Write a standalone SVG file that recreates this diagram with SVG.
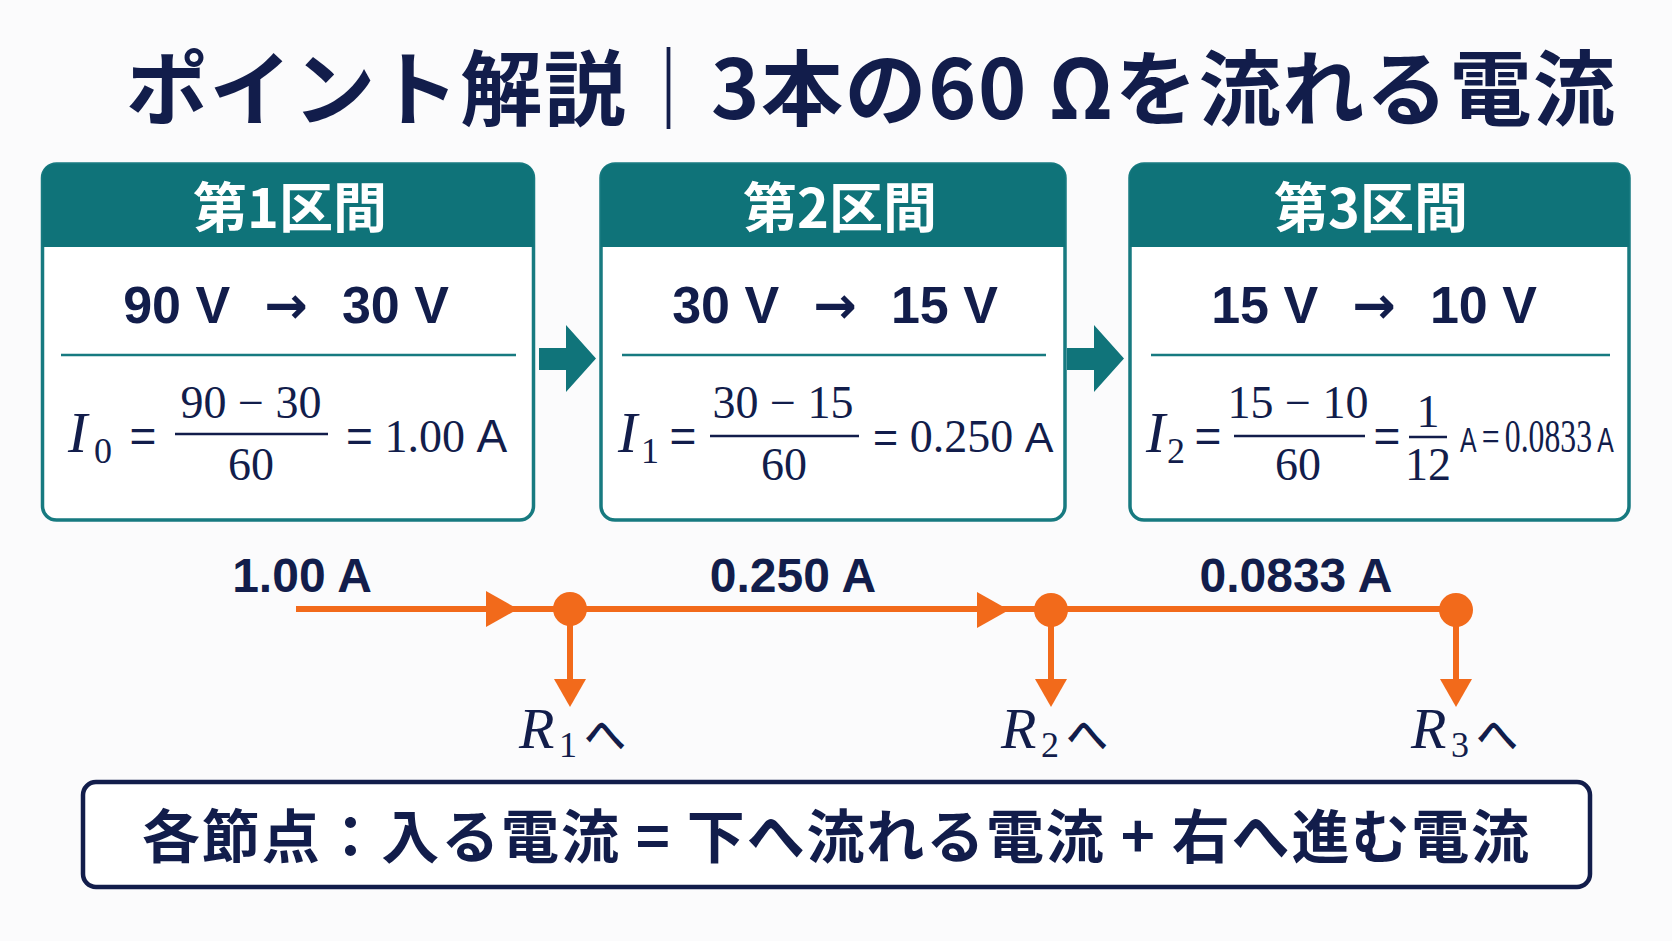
<svg xmlns="http://www.w3.org/2000/svg" width="1672" height="941" viewBox="0 0 1672 941">
<style>
.title{font-family:"Noto Sans CJK JP","Noto Sans",sans-serif;font-weight:700;font-size:82px;fill:#121d4b}
.hdr{font-family:"Noto Sans CJK JP","Noto Sans",sans-serif;font-weight:700;font-size:54px;fill:#ffffff}
.volt{font-family:"Liberation Sans","DejaVu Sans",sans-serif;font-weight:700;font-size:52px;fill:#121d4b}
.arw{font-family:"DejaVu Sans",sans-serif;font-weight:700}
.ser{font-family:"Liberation Serif","DejaVu Serif",serif;font-size:46px;fill:#121d4b}
.ital{font-family:"Liberation Serif","DejaVu Serif",serif;font-style:italic;font-size:58px;fill:#121d4b}
.sub{font-family:"Liberation Serif","DejaVu Serif",serif;font-size:36px;fill:#121d4b}
.sans{font-family:"Liberation Sans","DejaVu Sans",sans-serif;fill:#121d4b}
.lbl{font-family:"Liberation Sans","DejaVu Sans",sans-serif;font-weight:700;font-size:48px;fill:#121d4b}
.he{font-family:"Noto Sans CJK JP",sans-serif;font-weight:500;font-size:42px;fill:#121d4b}
.sum{font-family:"Noto Sans CJK JP","Noto Sans",sans-serif;font-weight:700;font-size:58px;fill:#121d4b}
.box{fill:#ffffff;stroke:#177a80;stroke-width:3.5}
.head{fill:#0f7379}
.div{stroke:#177a80;stroke-width:2.5}
.bar{stroke:#121d4b;stroke-width:2.5}
.or{stroke:#f26a1b;stroke-width:6;fill:none}
.orf{fill:#f26a1b}
.teal{fill:#10747a}
</style>
<rect x="0" y="0" width="1672" height="941" fill="#fbfbfc"/>

<g id="title">
<text class="title" x="126" y="119" textLength="1489" lengthAdjust="spacing">ポイント解説｜3本の60 Ωを流れる電流</text>
</g>

<g id="box1">
<rect class="box" x="42.5" y="164" width="491" height="356" rx="14"/>
<path class="head" d="M42.5,247 V178 Q42.5,164 56.5,164 H519.5 Q533.5,164 533.5,178 V247 Z"/>
<text class="hdr" x="290" y="228" text-anchor="middle">第1区間</text>
<text class="volt" x="286" y="323" text-anchor="middle">90 V<tspan class="arw" dx="16"> → </tspan><tspan dx="16">30 V</tspan></text>
<line class="div" x1="61" y1="355" x2="516" y2="355"/>
<text class="ital" x="68" y="452">I</text>
<text class="sub" x="94" y="463">0</text>
<text class="sans" x="143" y="452" font-size="46" text-anchor="middle">=</text>
<line class="bar" x1="175" y1="434" x2="328" y2="434"/>
<text class="ser" x="251" y="418" text-anchor="middle">90 − 30</text>
<text class="ser" x="251" y="480" text-anchor="middle">60</text>
<text class="ser" x="346" y="452"><tspan class="sans" font-size="46">=</tspan> 1.00 <tspan class="sans" font-size="46">A</tspan></text>
</g>

<g id="box2">
<rect class="box" x="601" y="164" width="464" height="356" rx="14"/>
<path class="head" d="M601,247 V178 Q601,164 615,164 H1051 Q1065,164 1065,178 V247 Z"/>
<text class="hdr" x="840" y="228" text-anchor="middle">第2区間</text>
<text class="volt" x="835" y="323" text-anchor="middle">30 V<tspan class="arw" dx="16"> → </tspan><tspan dx="16">15 V</tspan></text>
<line class="div" x1="622" y1="355" x2="1046" y2="355"/>
<text class="ital" x="618" y="452">I</text>
<text class="sub" x="641" y="463">1</text>
<text class="sans" x="683" y="452" font-size="46" text-anchor="middle">=</text>
<line class="bar" x1="710" y1="436" x2="859" y2="436"/>
<text class="ser" x="783" y="418" text-anchor="middle">30 − 15</text>
<text class="ser" x="784" y="480" text-anchor="middle">60</text>
<text class="ser" x="873" y="452" font-size="43"><tspan class="sans" font-size="43">=</tspan> 0.250 <tspan class="sans" font-size="43">A</tspan></text>
</g>

<g id="box3">
<rect class="box" x="1130" y="164" width="499" height="356" rx="14"/>
<path class="head" d="M1130,247 V178 Q1130,164 1144,164 H1615 Q1629,164 1629,178 V247 Z"/>
<text class="hdr" x="1371" y="228" text-anchor="middle">第3区間</text>
<text class="volt" x="1374" y="323" text-anchor="middle">15 V<tspan class="arw" dx="16"> → </tspan><tspan dx="16">10 V</tspan></text>
<line class="div" x1="1151" y1="355" x2="1610" y2="355"/>
<text class="ital" x="1146" y="452">I</text>
<text class="sub" x="1167" y="463">2</text>
<text class="sans" x="1208" y="452" font-size="46" text-anchor="middle">=</text>
<line class="bar" x1="1234" y1="436" x2="1365" y2="436"/>
<text class="ser" x="1298" y="418" text-anchor="middle">15 − 10</text>
<text class="ser" x="1298" y="480" text-anchor="middle">60</text>
<text class="sans" x="1387" y="452" font-size="46" text-anchor="middle">=</text>
<line class="bar" x1="1409" y1="437" x2="1447" y2="437"/>
<text class="ser" x="1428" y="427" text-anchor="middle" font-size="44">1</text>
<text class="ser" x="1428" y="480" text-anchor="middle" font-size="44">12</text>
<text class="ser" font-size="36" word-spacing="-4" transform="translate(1460,452) scale(0.69,1)"><tspan class="sans" font-size="36">A</tspan> = 0.0833 <tspan class="sans" font-size="36">A</tspan></text>
</g>

<g id="connectors">
<path class="teal" d="M539,348 H566 V325 L596,358.5 L566,392 V370 H539 Z"/>
<path class="teal" d="M1067,348 H1094 V325 L1124,358.5 L1094,392 V370 H1067 Z"/>
</g>

<g id="current-flow">
<line class="or" x1="296" y1="609" x2="1456" y2="609"/>
<path class="orf" d="M486,591 L518,609 L486,627 Z"/>
<path class="orf" d="M977,592 L1009,610 L977,628 Z"/>
<circle class="orf" cx="570" cy="609" r="17"/>
<circle class="orf" cx="1051" cy="610" r="17"/>
<circle class="orf" cx="1456" cy="610" r="17"/>
<line class="or" x1="570" y1="609" x2="570" y2="682"/>
<path class="orf" d="M554,679 L586,679 L570,707 Z"/>
<line class="or" x1="1051" y1="610" x2="1051" y2="682"/>
<path class="orf" d="M1035,679 L1067,679 L1051,707 Z"/>
<line class="or" x1="1456" y1="610" x2="1456" y2="682"/>
<path class="orf" d="M1440,679 L1472,679 L1456,707 Z"/>
</g>

<g id="labels">
<text class="lbl" x="302" y="592" text-anchor="middle">1.00 A</text>
<text class="lbl" x="793" y="592" text-anchor="middle">0.250 A</text>
<text class="lbl" x="1296" y="592" text-anchor="middle">0.0833 A</text>
<text class="ital" x="519" y="748" font-size="52">R</text>
<text class="sub" x="559" y="757" font-size="34">1</text>
<text class="he" x="584" y="750">へ</text>
<text class="ital" x="1001" y="748" font-size="52">R</text>
<text class="sub" x="1041" y="757" font-size="34">2</text>
<text class="he" x="1066" y="750">へ</text>
<text class="ital" x="1411" y="748" font-size="52">R</text>
<text class="sub" x="1451" y="757" font-size="34">3</text>
<text class="he" x="1476" y="750">へ</text>
</g>

<g id="summary">
<rect x="83" y="782" width="1507" height="105" rx="13" fill="#ffffff" stroke="#121d4b" stroke-width="4.5"/>
<text class="sum" x="142" y="858" textLength="1387" lengthAdjust="spacing">各節点：入る電流 = 下へ流れる電流 + 右へ進む電流</text>
</g>
</svg>
